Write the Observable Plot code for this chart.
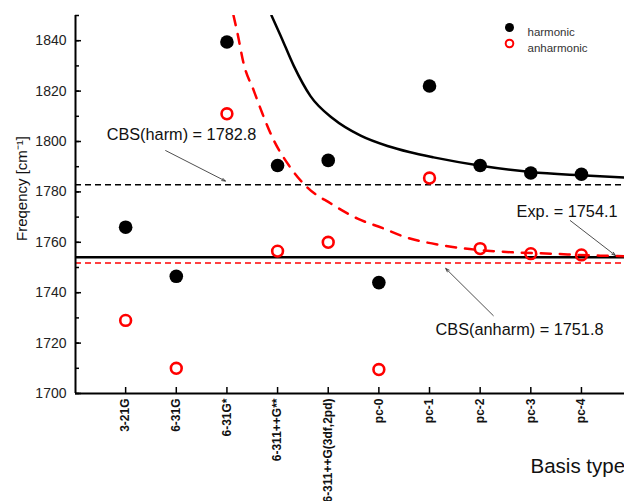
<!DOCTYPE html>
<html><head><meta charset="utf-8">
<script src="https://cdn.jsdelivr.net/npm/d3@7"></script>
<script src="https://cdn.jsdelivr.net/npm/@observablehq/plot@0.6"></script>
<style>body{margin:0;background:#fff;} #chart svg{font-family:"Liberation Sans",Arial,sans-serif;}</style>
</head><body><div id="chart"></div>
<script>
// Basis sets (x categories)
const categories = ["3-21G","6-31G","6-31G*","6-311++G**","6-311++G(3df,2pd)","pc-0","pc-1","pc-2","pc-3","pc-4"];
const categoryIndex = [0,1,2,3,4,5,6,7,8,9];
// Frequencies [cm-1]
const harmonic   = [1766, 1746.5, 1839.5, 1790.5, 1792.5, 1744, 1822, 1790.5, 1787.5, 1787];
const anharmonic = [1729, 1710, 1811, 1756.5, 1760, 1709.5, 1785.5, 1757.5, 1755.5, 1755];
// Fitted curves (x in category-index units)
const harmFitX = [2.88, 3.06, 3.32, 3.65, 4.10, 4.64, 5.17, 5.60, 6.08, 7.01, 8.00, 8.98, 9.85];
const harmFitY = [1850, 1842.0, 1830.0, 1818.0, 1809.0, 1802.3, 1798.2, 1795.8, 1793.7, 1790.4, 1787.9, 1786.6, 1785.7];
const anharmFitX = [2.13, 2.21, 2.33, 2.53, 2.70, 2.90, 3.20, 3.59, 4.05, 4.58, 5.09, 5.49, 6.28, 7.40, 8.39, 9.37, 9.85];
const anharmFitY = [1850, 1842.8, 1830.9, 1820.2, 1811.1, 1801.5, 1791.2, 1781.7, 1775.4, 1769.4, 1765.5, 1762.3, 1758.7, 1756.3, 1755.5, 1754.7, 1754.5];
// Reference lines
const cbsHarm = 1782.8, expValue = 1754.1, cbsAnharm = 1751.8;
// Annotations
const annLabels = ["CBS(harm) = 1782.8", "Exp. = 1754.1", "CBS(anharm) = 1751.8"];
const annTextX = [-0.375, 7.72, 6.12];
const annTextY = [1802.7, 1772.2, 1725.4];
const arrowX1 = [0.79, 8.78, 7.26], arrowY1 = [1796.4, 1768.6, 1730.9];
const arrowX2 = [1.97, 9.67, 6.32], arrowY2 = [1784.3, 1754.8, 1749.6];
// Axis ticks
const yMajor = [1700, 1720, 1740, 1760, 1780, 1800, 1820, 1840];
const yMinor = [1700, 1710, 1720, 1730, 1740, 1750, 1760, 1770, 1780, 1790, 1800, 1810, 1820, 1830, 1840, 1850];
const legendLabels = ["harmonic", "anharmonic"];

const pts = categoryIndex.map(i => ({i, h: harmonic[i], a: anharmonic[i]}));
const harmFit = harmFitX.map((x, k) => ({x, y: harmFitY[k]}));
const anharmFit = anharmFitX.map((x, k) => ({x, y: anharmFitY[k]}));
const ann = annLabels.map((t, k) => ({t, x: annTextX[k], y: annTextY[k], x1: arrowX1[k], y1: arrowY1[k], x2: arrowX2[k], y2: arrowY2[k]}));
const xDomain = [-0.99, 9.85];
const font = "Liberation Sans, Arial, sans-serif";

const plot = Plot.plot({
  width: 624, height: 501,
  marginLeft: 75, marginRight: 0, marginTop: 15, marginBottom: 108,
  x: {domain: xDomain},
  y: {domain: [1700, 1850]},
  style: {fontFamily: font, background: "#fff", overflow: "hidden"},
  marks: [
    Plot.ruleY([cbsHarm], {x1: xDomain[0], x2: xDomain[1], stroke: "black", strokeWidth: 1.5, strokeDasharray: "6,4"}),
    Plot.ruleY([cbsAnharm], {x1: xDomain[0], x2: xDomain[1], stroke: "#ff0000", strokeWidth: 1.5, strokeDasharray: "6,4"}),
    Plot.ruleY([expValue], {x1: xDomain[0], x2: xDomain[1], stroke: "black", strokeWidth: 2.5}),
    Plot.line(harmFit, {x: "x", y: "y", stroke: "black", strokeWidth: 2.5, curve: "monotone-x", clip: true}),
    Plot.line(anharmFit, {x: "x", y: "y", stroke: "#ff0000", strokeWidth: 2.5, strokeDasharray: "10,9", curve: "monotone-x", clip: true}),
    Plot.dot(pts, {x: "i", y: "h", r: 6.8, fill: "black"}),
    Plot.dot(pts, {x: "i", y: "a", r: 5.4, stroke: "#ff0000", strokeWidth: 2.6, fill: "none"}),
    Plot.arrow(ann, {x1: "x1", y1: "y1", x2: "x2", y2: "y2", stroke: "#222", strokeWidth: 0.8, headLength: 7, headAngle: 40}),
    Plot.text(ann, {x: "x", y: "y", text: "t", textAnchor: "start", fontSize: 16.3, fill: "#111"}),
    // axes
    Plot.ruleX([xDomain[0]], {stroke: "black", strokeWidth: 2}),
    Plot.ruleY([1700], {stroke: "black", strokeWidth: 2}),
    Plot.axisY({ticks: yMinor, tickSize: -4, tickFormat: () => "", strokeWidth: 1.5}),
    Plot.axisY({ticks: yMajor, tickSize: -6, tickPadding: 15, tickFormat: d => String(d), fontSize: 14, fill: "#222", strokeWidth: 1.5, label: null}),
    Plot.axisX({ticks: categoryIndex, tickSize: -6, tickPadding: 11, tickRotate: -90, tickFormat: i => categories[i], fontSize: 12, fontWeight: "bold", fill: "#111", strokeWidth: 1.5, label: null}),
    Plot.text(["Freqency [cm⁻¹]"], {frameAnchor: "left", dx: -53, dy: -16, rotate: -90, fontSize: 15, fill: "#111", textAnchor: "middle"}),
    Plot.text(["Basis type"], {frameAnchor: "bottom-left", dx: 455, dy: 79, fontSize: 20.5, fill: "#111", textAnchor: "start"}),
    // legend
    Plot.dot([legendLabels[0]], {frameAnchor: "top-left", dx: 434, dy: 12, r: 4.5, fill: "black"}),
    Plot.dot([legendLabels[1]], {frameAnchor: "top-left", dx: 434, dy: 28, r: 3.8, stroke: "#ff0000", strokeWidth: 2, fill: "none"}),
    Plot.text([legendLabels[0]], {frameAnchor: "top-left", dx: 452, dy: 12, text: d => d, fontSize: 11.5, fill: "#333", textAnchor: "start", letterSpacing: "1px"}),
    Plot.text([legendLabels[1]], {frameAnchor: "top-left", dx: 452, dy: 28, text: d => d, fontSize: 11.5, fill: "#333", textAnchor: "start", letterSpacing: "1px"})
  ]
});
document.getElementById("chart").appendChild(plot);
</script>
</body></html>
